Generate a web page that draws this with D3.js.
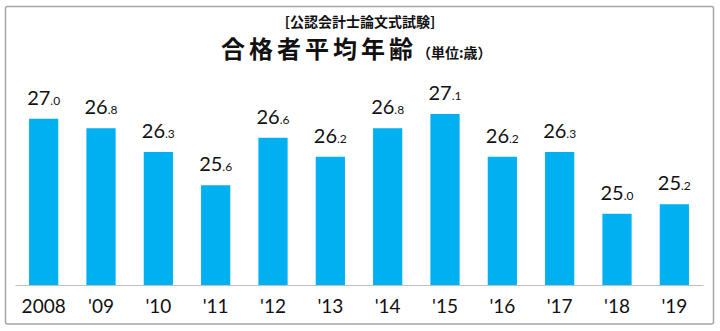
<!DOCTYPE html>
<html>
<head>
<meta charset="utf-8">
<script src="https://cdn.jsdelivr.net/npm/d3@7"></script>
<style>
  html, body { margin: 0; padding: 0; background: #fff; }
  svg { display: block; }
</style>
</head>
<body>
<svg id="chart" width="720" height="331"></svg>
<script>
// Average age of successful candidates, CPA essay exam
const years = ["2008", "'09", "'10", "'11", "'12", "'13", "'14", "'15", "'16", "'17", "'18", "'19"];
const ages = [27.0, 26.8, 26.3, 25.6, 26.6, 26.2, 26.8, 27.1, 26.2, 26.3, 25.0, 25.2];

const svg = d3.select("#chart");

// frame
svg.append("rect")
  .attr("x", 5.5).attr("y", 6.5)
  .attr("width", 708).attr("height", 317.5)
  .attr("rx", 2)
  .attr("fill", "#fff")
  .attr("stroke", "#a6a6a6")
  .attr("stroke-width", 1.5);

const cjk = "'Noto Sans CJK JP', 'Noto Sans CJK SC', sans-serif";
const num = "Lato, 'Open Sans', sans-serif";

// titles
svg.append("text")
  .attr("x", 360).attr("y", 27)
  .attr("text-anchor", "middle")
  .attr("font-family", cjk)
  .attr("font-weight", 700)
  .attr("font-size", 14)
  .attr("fill", "#111")
  .text("[公認会計士論文式試験]");

const title = svg.append("text")
  .attr("x", 221).attr("y", 58)
  .attr("font-family", cjk)
  .attr("font-weight", 700)
  .attr("fill", "#111");
title.append("tspan")
  .attr("font-size", 24)
  .attr("letter-spacing", 4)
  .text("合格者平均年齢");
title.append("tspan")
  .attr("font-size", 14)
  .text("（単位:歳）");

// scales
const x = d3.scaleBand()
  .domain(years)
  .range([15, 703])
  .paddingInner(0.49)
  .paddingOuter(0.245);

const y = d3.scaleLinear()
  .domain([23.5, 27.5])
  .range([285, 95]);

// bars
svg.append("g")
  .selectAll("rect")
  .data(ages)
  .join("rect")
  .attr("x", (d, i) => x(years[i]))
  .attr("y", d => y(d))
  .attr("width", x.bandwidth())
  .attr("height", d => y(y.domain()[0]) - y(d))
  .attr("fill", "#00b0f0");

// baseline axis
const xAxis = d3.axisBottom(x).tickSize(0).tickPadding(0);
const gx = svg.append("g")
  .attr("transform", "translate(0,285)")
  .call(xAxis);
gx.select(".domain")
  .attr("stroke", "#bfbfbf")
  .attr("stroke-width", 1.2);
gx.selectAll("text")
  .attr("dy", null)
  .attr("y", 28)
  .attr("font-family", num)
  .attr("font-size", 19)
  .attr("fill", "#111");

// value labels: integer part large, decimal part small
const labels = svg.append("g")
  .selectAll("text")
  .data(ages)
  .join("text")
  .attr("x", (d, i) => x(years[i]) + x.bandwidth() / 2)
  .attr("y", d => y(d) - 14)
  .attr("text-anchor", "middle")
  .attr("font-family", num)
  .attr("fill", "#111");
labels.append("tspan")
  .attr("font-size", 20)
  .text(d => d.toFixed(1).split(".")[0]);
labels.append("tspan")
  .attr("font-size", 12)
  .text(d => "." + d.toFixed(1).split(".")[1]);
</script>
</body>
</html>
